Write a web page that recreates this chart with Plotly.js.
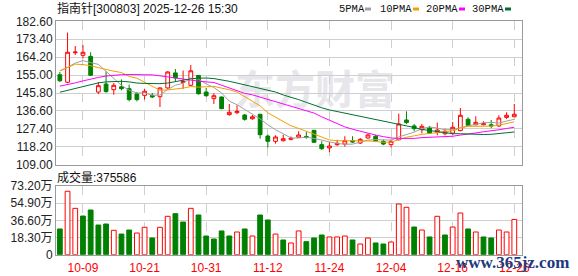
<!DOCTYPE html>
<html><head><meta charset="utf-8">
<script src="https://cdn.plot.ly/plotly-3.0.1.min.js"></script>
<style>html,body{margin:0;padding:0;background:#fff}#c{width:578px;height:276px}</style>
</head><body><div id="c"></div>
<script>
const dates = ["09-26","09-29","09-30","10-09","10-10","10-13","10-14","10-15","10-16","10-17",
"10-20","10-21","10-22","10-23","10-24","10-27","10-28","10-29","10-30","10-31",
"11-03","11-04","11-05","11-06","11-07","11-10","11-11","11-12","11-13","11-14",
"11-17","11-18","11-19","11-20","11-21","11-24","11-25","11-26","11-27","11-28",
"12-01","12-02","12-03","12-04","12-05","12-08","12-09","12-10","12-11","12-12",
"12-15","12-16","12-17","12-18","12-19","12-22","12-23","12-24","12-25","12-26"];
const openP = [155.2,151.3,166.5,165.15,164.6,146.3,150.4,147.5,149.0,148.0,
145.3,144.6,144.6,143.9,148.4,156.1,151.2,149.75,154.8,146.3,
142.9,143.75,134.7,135.7,134.5,132.6,134.9,123.7,121.0,121.3,
122.0,123.1,123.5,126.65,119.3,117.6,119.3,119.6,121.3,120.1,
122.7,123.6,121.0,119.3,121.8,131.95,128.9,126.95,127.85,125.6,
124.9,125.2,126.5,132.3,129.5,129.5,129.5,128.9,133.3,133.6];
const highP = [156.6,176.8,169.9,170.4,166.7,151.45,156.9,150.9,152.8,150.1,
146.3,148.0,145.8,148.6,157.0,158.1,157.35,160.2,155.0,148.4,
145.65,144.0,140.15,139.5,135.0,134.5,135.0,124.4,124.1,124.4,
123.5,126.15,125.8,126.8,121.0,120.65,121.8,123.6,123.6,122.7,
124.9,124.4,121.9,121.9,135.2,136.4,129.9,129.9,128.9,130.6,
127.5,130.9,138.1,133.3,133.85,131.3,131.95,134.35,135.9,140.15];
const lowP = [151.4,150.8,165.3,163.6,154.5,145.3,146.0,144.9,147.2,141.5,
141.5,142.4,143.2,138.6,148.0,151.8,147.9,149.5,145.0,143.9,
140.15,137.5,134.15,135.0,131.6,132.1,122.35,117.9,119.8,121.0,
121.5,122.9,122.35,120.3,116.7,115.4,118.6,118.25,120.1,119.6,
122.35,121.0,119.0,117.9,121.5,129.9,126.15,125.1,124.75,124.1,
124.1,124.4,126.15,128.9,129.2,129.2,127.85,128.5,132.5,133.5];
const closeP = [152.1,166.7,166.8,166.7,154.9,149.55,146.5,149.75,148.0,142.4,
142.4,146.7,143.75,148.4,156.6,153.5,151.65,157.2,145.4,144.4,
144.4,137.75,135.9,136.4,132.3,133.6,124.4,121.0,123.2,122.35,
122.6,124.25,123.0,120.5,117.2,118.6,120.0,121.3,120.65,122.0,
124.25,121.3,119.6,121.0,129.9,130.6,127.5,128.7,125.2,126.8,
126.15,128.2,134.35,129.2,130.75,130.2,128.9,132.95,134.35,134.9];
const ma5 = [157.25,159.0,161.2,162.4,161.4,160.5,156.9,153.5,149.7,147.2,
145.8,145.85,144.65,144.7,147.6,149.8,150.8,153.5,152.9,150.4,
148.6,145.8,141.6,139.8,137.35,135.2,132.5,129.5,126.9,124.9,
122.7,122.7,123.1,122.5,121.5,120.7,119.9,119.5,119.55,120.5,
121.6,121.9,121.6,121.6,123.2,124.5,125.7,127.5,128.4,127.8,
126.9,127.0,128.1,128.9,129.7,130.5,130.7,130.4,131.4,132.3];
const ma10 = [157.1,158.8,160.6,160.4,159.8,158.8,157.8,157.0,156.3,154.3,
153.4,151.4,149.1,147.2,147.4,147.8,148.3,149.1,148.8,149.0,
149.2,148.3,147.5,146.3,143.9,141.9,139.2,135.6,133.3,131.1,
129.0,127.6,126.3,124.7,123.2,121.7,121.3,121.3,121.0,121.0,
121.2,120.9,120.5,120.6,121.9,123.1,123.8,124.6,125.0,125.5,
125.7,126.4,127.8,128.7,128.7,128.7,128.8,129.3,130.2,131.0];
const ma20 = [149.3,150.0,151.0,152.0,153.0,153.8,154.5,154.9,155.2,155.3,
155.3,155.3,155.1,154.6,154.0,153.4,152.8,152.3,151.9,151.5,
151.2,149.8,148.3,146.8,145.6,144.85,143.7,142.3,141.1,140.1,
139.1,137.95,136.9,135.5,133.55,131.8,130.2,128.4,127.2,126.1,
125.1,124.2,123.4,122.7,122.5,122.4,122.5,122.9,123.0,123.2,
123.4,123.6,124.2,124.6,125.3,125.9,126.3,126.9,127.6,128.2];
const ma30 = [146.2,147.2,148.3,149.3,150.2,151.0,151.5,151.8,151.8,151.5,
150.9,150.7,150.6,150.6,150.9,151.7,152.6,153.1,153.4,153.5,
153.2,152.6,151.8,150.9,150.0,149.2,148.4,147.3,146.3,144.8,
143.8,142.4,141.0,139.4,138.2,137.1,136.3,135.3,134.4,133.7,
133.1,132.3,131.5,130.5,129.65,128.9,128.1,127.1,126.5,125.9,
125.3,124.9,124.9,124.7,124.6,124.5,124.6,125.0,125.4,125.8];
const volume = [27.4,67.6,49.4,41.2,47.6,31.6,32.7,26.0,22.0,26.3,
23.1,29.2,17.8,29.2,40.9,43.7,34.8,49.4,42.3,19.9,
16.7,25.3,19.9,24.2,27.4,19.9,42.3,37.0,22.0,15.7,
12.5,25.3,13.9,17.8,21.0,18.9,18.9,19.9,15.7,11.4,
17.8,12.5,11.4,13.5,54.0,50.5,29.5,26.3,18.9,40.9,
21.0,29.5,44.4,27.4,24.2,18.9,17.8,26.3,24.2,37.56];
const volUp = [0,1,1,0,0,0,0,1,0,0,
1,1,0,1,1,0,0,1,0,0,
0,0,0,1,0,1,0,0,1,0,
1,1,0,0,0,1,1,1,0,1,
1,0,0,1,1,1,0,1,0,1,
0,1,1,0,1,0,0,1,1,1];
const xTicks = ["10-09","10-21","10-31","11-12","11-24","12-04","12-16","12-26"];
const priceTicks = [109.0,118.2,127.4,136.6,145.8,155.0,164.2,173.4,182.6];
const priceTickText = ["109.00","118.20","127.40","136.60","145.80","155.00","164.20","173.40","182.60"];
const volTicks = [0,18.3,36.6,54.9,73.2];
const volTickText = ["0","18.30万","36.60万","54.90万","73.20万"];
const maNames = ["5PMA","10PMA","20PMA","30PMA"];
const maColors = ["#a0a0a0","#f0a000","#ff00ff","#006f30"];
const titleText = "指南针[300803] 2025-12-26 15:30";
const volLabel = "成交量:375586";

const W=578,H=276;
const RED="#ff0000", GREEN="#008000";
const px = v=>v/W, py = v=>1-v/H;
const FONT = "Liberation Sans, Arial, Noto Sans CJK SC, sans-serif";

const traces = [];
traces.push({type:'candlestick', x:dates, open:openP, high:highP, low:lowP, close:closeP,
  xaxis:'x', yaxis:'y', whiskerwidth:0, hoverinfo:'skip',
  increasing:{line:{color:RED,width:1},fillcolor:'#ffffff'},
  decreasing:{line:{color:GREEN,width:1},fillcolor:GREEN}});
[ma5,ma10,ma20,ma30].forEach((m,i)=>{
  traces.push({type:'scatter',mode:'lines',x:dates,y:m,xaxis:'x',yaxis:'y',
    line:{color:maColors[i],width:1},hoverinfo:'skip'});
});
traces.push({type:'bar',x:dates,y:volume,xaxis:'x2',yaxis:'y2',width:0.62,hoverinfo:'skip',
  marker:{color:volUp.map(u=>u?'#ffffff':GREEN),line:{color:volUp.map(u=>u?RED:GREEN),width:1}}});

const xdom=[px(56),px(522)];
const common = {type:'category',range:[-0.5,60.0],tickmode:'array',tickvals:xTicks,ticktext:xTicks,
  showgrid:true,gridcolor:'#cfcfcf',griddash:'dash',gridwidth:1,showline:true,linecolor:'#9a9a9a',
  mirror:true,ticks:'',zeroline:false,fixedrange:true,automargin:false,domain:xdom};

const annotations = [
  {xref:'paper',yref:'paper',x:px(55),y:py(8.5),xanchor:'left',yanchor:'middle',showarrow:false,
   text:titleText,font:{family:FONT,size:12,color:'#111'}},
  {xref:'paper',yref:'paper',x:px(55),y:py(177),xanchor:'left',yanchor:'middle',showarrow:false,
   text:volLabel,font:{family:FONT,size:12,color:'#111'}},
  {xref:'paper',yref:'paper',x:px(512),y:py(262),xanchor:'center',yanchor:'middle',showarrow:false,
   text:"www.365jz.com",font:{family:"Liberation Serif, DejaVu Serif, serif",size:17,color:'#1d3a7e',weight:'bold'}}
];
const legX=[337,378,424,470], swX=[365,413,459,505];
const shapes = [];
maNames.forEach((n,i)=>{
  annotations.push({xref:'paper',yref:'paper',x:px(legX[i]),y:py(9),xanchor:'left',yanchor:'middle',
    showarrow:false,text:n,font:{family:"Liberation Mono, DejaVu Sans Mono, monospace",size:10.5,color:'#111'}});
  shapes.push({type:'rect',xref:'paper',yref:'paper',x0:px(swX[i]),x1:px(swX[i]+6),y0:py(10.5),y1:py(7.5),
    fillcolor:maColors[i],line:{width:0}});
});
shapes.push({type:'rect',xref:'paper',yref:'paper',layer:'below',x0:px(230),x1:px(400),y0:py(114),y1:py(72),
  fillcolor:'rgba(0,0,0,0)',line:{width:0},
  label:{text:'东方财富',textposition:'middle center',
    font:{family:'Noto Sans CJK SC, sans-serif',size:40,color:'#e6e6eb',weight:'bold'}}});

const layout = {
  width:W,height:H,margin:{l:0,r:0,t:0,b:0},paper_bgcolor:'#ffffff',plot_bgcolor:'rgba(0,0,0,0)',
  showlegend:false,font:{family:FONT,size:12,color:'#222'},
  xaxis:Object.assign({},common,{anchor:'y',showticklabels:false,rangeslider:{visible:false}}),
  xaxis2:Object.assign({},common,{anchor:'y2',showticklabels:true,tickfont:{family:FONT,size:12,color:RED},ticklabelstandoff:2}),
  yaxis:{domain:[py(164.7),py(21.3)],range:[109,182.6],tickmode:'array',tickvals:priceTicks,ticktext:priceTickText,
    showgrid:true,gridcolor:'#cfcfcf',showline:true,linecolor:'#9a9a9a',mirror:true,ticks:'',zeroline:false,
    tickfont:{family:FONT,size:12,color:'#222'},fixedrange:true,automargin:false,anchor:'x'},
  yaxis2:{domain:[py(254.7),py(186)],range:[0,73.2],tickmode:'array',tickvals:volTicks,ticktext:volTickText,
    showgrid:true,gridcolor:'#cfcfcf',showline:true,linecolor:'#9a9a9a',mirror:true,ticks:'',zeroline:false,
    tickfont:{family:FONT,size:12,color:'#222'},fixedrange:true,automargin:false,anchor:'x2'},
  annotations:annotations, shapes:shapes, bargap:0.4
};
Plotly.newPlot('c',traces,layout,{staticPlot:true,displayModeBar:false});
</script></body></html>
